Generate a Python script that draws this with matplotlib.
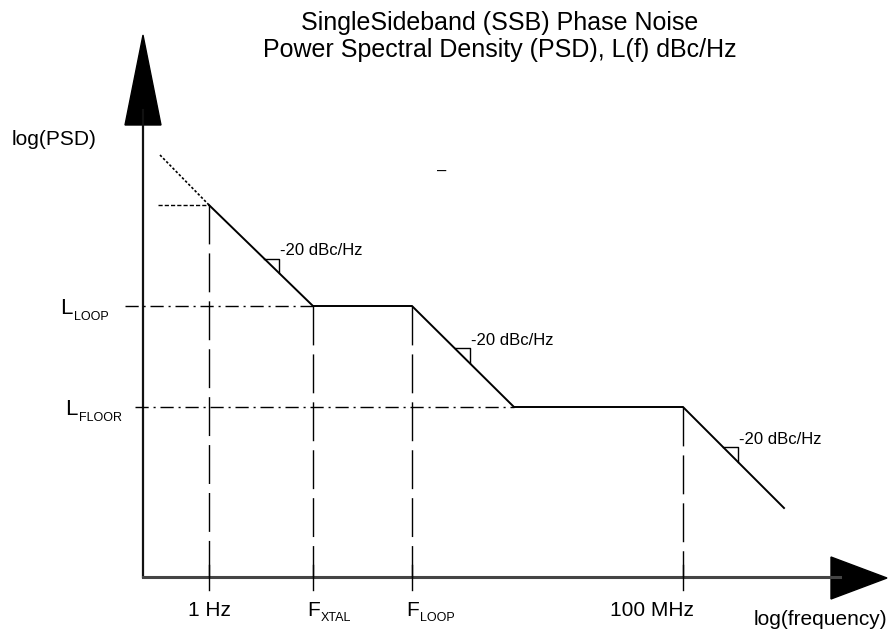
import numpy as np
import matplotlib
matplotlib.use("Agg")
import matplotlib.pyplot as plt
from matplotlib.patches import Polygon

plt.rcParams['font.family'] = ['Liberation Sans', 'DejaVu Sans']

# schematic layout units (x grows to the right = log f, y grows downward on the canvas)
curve_x = [209, 313, 412, 514, 683, 784]
curve_y = [205, 306, 306, 407, 407, 508]
extrap_x = [160, 209]
extrap_y = [155, 205]

tick_x = [209, 313, 412, 683]
tick_main = ['1 Hz', 'F', 'F', '100 MHz']
tick_sub = ['', 'XTAL', 'LOOP', '']
tick_top = [205, 306, 306, 407]

level_y = [306, 407]
level_start = [125, 135]
level_end = [313, 514]
level_main = ['L', 'L']
level_sub = ['LOOP', 'FLOOR']

slope_labels = ['-20 dBc/Hz', '-20 dBc/Hz', '-20 dBc/Hz']
slope_seg = [0, 2, 4]          # which segment each marker sits on
slope_frac = [0.53, 0.42, 0.40]

axis_x0, axis_y0 = 143, 577

fig = plt.figure(figsize=(8.89, 6.36), dpi=100)
ax = fig.add_axes([0, 0, 1, 1])
ax.set_xlim(0, 889)
ax.set_ylim(636, 0)
ax.axis('off')


def sub_label(x, y, main, sub, size, sub_size, ha='left'):
    t = ax.text(x, y, main, ha=ha, va='baseline', fontsize=size)
    if sub:
        ax.annotate(sub, xy=(1, 0), xycoords=t, xytext=(1.0, -1.0),
                    textcoords='offset points', ha='left', va='baseline',
                    fontsize=sub_size)
    return t


# axes with arrow heads
ax.plot([axis_x0, axis_x0], [axis_y0, 110], color='#111111', lw=1.6)
ax.plot([axis_x0, 840], [axis_y0, axis_y0], color='#444444', lw=2.2)
ax.add_patch(Polygon([[125, 125], [161, 125], [143, 35]], closed=True, color='black'))
ax.add_patch(Polygon([[831, 557], [831, 599], [887, 578]], closed=True, color='black'))

# curve
ax.plot(curve_x, curve_y, color='black', lw=1.4, solid_joinstyle='miter')
ax.plot(extrap_x, extrap_y, color='black', lw=1.2, ls=(0, (1.5, 1.2)))
ax.plot([158, curve_x[0]], [curve_y[0], curve_y[0]], color='black', lw=1.0, ls=(0, (3, 1.5)))

# vertical guides and ticks
for x, top in zip(tick_x, tick_top):
    ax.plot([x, x], [top, axis_y0], color='black', lw=1.0, ls=(0, (28, 6.5)))
    ax.plot([x, x], [axis_y0 - 12, axis_y0 + 13], color='black', lw=1.0)

sub_label(tick_x[0], 616, tick_main[0], tick_sub[0], 15, 9, ha='center')
sub_label(tick_x[1] - 6, 616, tick_main[1], tick_sub[1], 15, 9)
sub_label(tick_x[2] - 6, 616, tick_main[2], tick_sub[2], 15, 9)
sub_label(tick_x[3] + 11, 616, tick_main[3], tick_sub[3], 15, 9, ha='right')

# levels
for y, x0, x1, m, s in zip(level_y, level_start, level_end, level_main, level_sub):
    ax.plot([x0, x1], [y, y], color='black', lw=1.0, ls=(0, (9.5, 3.5, 1.5, 3.5)))
    sub_label(x0 - 65 if s == 'LOOP' else x0 - 70, y + 8, m, s, 16, 9)

# slope markers
for seg, frac, lab in zip(slope_seg, slope_frac, slope_labels):
    xa, xb = curve_x[seg], curve_x[seg + 1]
    ya, yb = curve_y[seg], curve_y[seg + 1]
    px = xa + frac * (xb - xa)
    py = ya + frac * (yb - ya)
    k = (yb - ya) / (xb - xa)
    d = 15
    ax.plot([px, px + d, px + d], [py, py, py + k * d], color='black', lw=1.0)
    ax.text(px + d + 1, py - 8, lab, ha='left', va='center', fontsize=12)

ax.text(442, 171, '–', ha='center', va='center', fontsize=12)

ax.text(12, 145, 'log(PSD)', ha='left', va='baseline', fontsize=15)
ax.text(887, 625, 'log(frequency)', ha='right', va='baseline', fontsize=15)

ax.text(500, 30, 'SingleSideband (SSB) Phase Noise', ha='center', va='baseline', fontsize=18)
ax.text(500, 57, 'Power Spectral Density (PSD), L(f) dBc/Hz', ha='center', va='baseline', fontsize=18)

fig.savefig('out.png', dpi=100)
